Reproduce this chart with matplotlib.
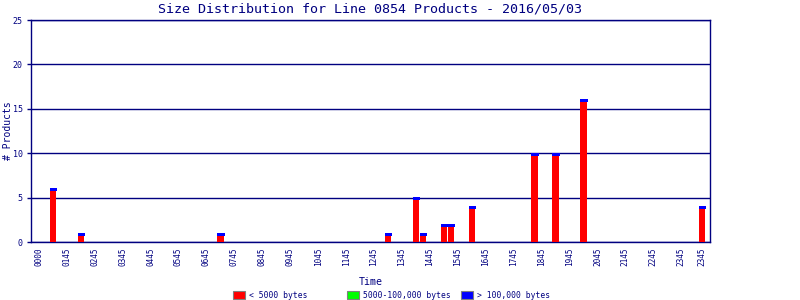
import numpy as np
import matplotlib
matplotlib.use("Agg")
import matplotlib.pyplot as plt
from matplotlib.patches import Rectangle

# bar times (hours of day) and counts per size class
hours = [0.5, 1.5, 6.5, 12.5, 13.5, 13.75, 14.5, 14.75, 15.5, 17.75, 18.5, 19.5, 23.75]
small = [6, 1, 1, 1, 5, 1, 2, 2, 4, 10, 10, 16, 4]
medium = [0] * len(hours)
large = [0] * len(hours)

tick_pos = list(range(24)) + [23.75]
tick_labels = ["0000"] + [f"{h:02d}45" for h in range(1, 24)] + ["2345"]
series_names = ["< 5000 bytes", "5000-100,000 bytes", "> 100,000 bytes"]
series_colors = ["#ff0000", "#00ff00", "#0000ff"]

NAVY = "#000080"
MONO = "DejaVu Sans Mono"

fig = plt.figure(figsize=(8, 3), dpi=100)
ax = fig.add_axes([31 / 800, 1 - 242.3 / 300, 679 / 800, 222.3 / 300])

x = np.array(hours)
s = np.array(small, float)
m = np.array(medium, float)
l = np.array(large, float)
w = 0.225
ax.bar(x, s, width=w, color=series_colors[0], linewidth=0, zorder=3)
ax.bar(x, m, width=w, bottom=s, color=series_colors[1], linewidth=0, zorder=3)
ax.bar(x, l, width=w, bottom=s + m, color=series_colors[2], linewidth=0, zorder=3)
# the original draws the (empty) top segment as a thin blue cap
ax.hlines(s + m + l - 0.05, x - w / 2, x + w / 2, color=series_colors[2],
          linewidth=0.85, antialiased=False, zorder=4)

ax.set_xlim(-0.28, 24.03)
ax.set_ylim(0, 25)
ax.set_yticks([0, 5, 10, 15, 20, 25])
ax.set_xticks(tick_pos)
ax.set_xticklabels(tick_labels, rotation=90, fontsize=5.6, family=MONO, color=NAVY)
ax.tick_params(axis="x", length=0, pad=4)
ax.tick_params(axis="y", length=3, width=1, color=NAVY, labelcolor=NAVY,
               labelsize=6, pad=3)
for t in ax.get_yticklabels():
    t.set_family(MONO)
ax.yaxis.grid(True, color=NAVY, linewidth=1)
ax.set_axisbelow(True)
for sp in ax.spines.values():
    sp.set_color(NAVY)
    sp.set_linewidth(1)

ax.set_xlabel("Time", fontsize=7.2, family=MONO, color=NAVY, labelpad=8)
fig.text(8 / 800, 1 - 131 / 300, "# Products", rotation=90, ha="center", va="center",
         fontsize=7, family=MONO, color=NAVY)
fig.text(370 / 800, 1 - 9 / 300, "Size Distribution for Line 0854 Products - 2016/05/03",
         ha="center", va="center", fontsize=9.6, family=MONO, color=NAVY)

# legend swatches
leg_x = [233, 347, 461]
for lx, name, col in zip(leg_x, series_names, series_colors):
    fig.patches.append(Rectangle((lx / 800, 1 - 299 / 300), 12 / 800, 8 / 300,
                                 transform=fig.transFigure, facecolor=col,
                                 edgecolor="#808080", linewidth=0.8))
    fig.text((lx + 16) / 800, 1 - 295 / 300, name, ha="left", va="center",
             fontsize=5.8, family=MONO, color=NAVY)

fig.savefig("out.png", dpi=100, facecolor="white")
